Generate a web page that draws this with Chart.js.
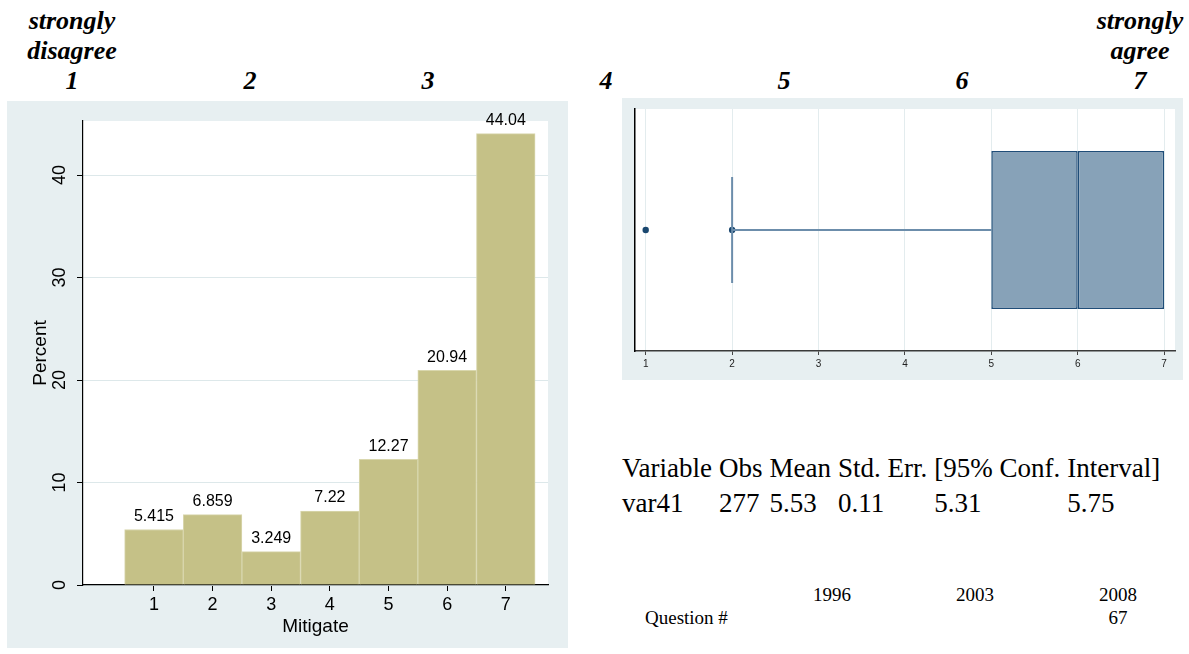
<!DOCTYPE html>
<html lang="en">
<head>
  <meta charset="UTF-8">
  <title>Mitigate</title>
  <script src="https://cdn.jsdelivr.net/npm/chart.js"></script>
  <style>
    body { margin:0; width:1189px; height:654px; background:#fff; position:relative; overflow:hidden;
           font-family:"Liberation Serif", "Times New Roman", serif; color:#000; }
    .scale-lbl { position:absolute; top:6px; transform:translateX(-50%); text-align:center;
                 font-weight:bold; font-style:italic; font-size:26px; line-height:30px; white-space:pre; }
    #histWrap { position:absolute; left:7px; top:101px; }
    #boxWrap { position:absolute; left:622px; top:98px; }
    #stats { position:absolute; left:622px; top:451px; font-size:27px; border-collapse:collapse; }
    #stats td { padding:0 7px 0 0; line-height:35px; white-space:nowrap; }
    .yr { position:absolute; font-size:19px; line-height:20px; transform:translateX(-50%); }
  </style>
</head>
<body>
  <div id="scaleLabels"></div>
  <div id="histWrap"><canvas id="hist" width="561" height="547"></canvas></div>
  <div id="boxWrap"><canvas id="box" width="561" height="282"></canvas></div>
  <table id="stats"><tr id="statHead"></tr><tr id="statBody"></tr></table>
  <div id="years"></div>

  <script>
    // histogram: percent answering each point of the scale
    const categories = [1, 2, 3, 4, 5, 6, 7];
    const percent = [5.415, 6.859, 3.249, 7.22, 12.27, 20.94, 44.04];
    const percentLabels = ['5.415', '6.859', '3.249', '7.22', '12.27', '20.94', '44.04'];
    const percentTicks = [0, 10, 20, 30, 40];

    // box plot summary
    const boxTicks = [1, 2, 3, 4, 5, 6, 7];
    const q1 = 5, median = 6, q3 = 7;
    const lowerAdjacent = 2;
    const outsideValues = [1, 2];

    // scale labels on top
    const scaleNumbers = ['1', '2', '3', '4', '5', '6', '7'];
    const scaleEnds = ['strongly\ndisagree', '', '', '', '', '', 'strongly\nagree'];

    // summary table
    const statHeader = ['Variable', 'Obs', 'Mean', 'Std. Err.', '[95% Conf.', 'Interval]'];
    const statValues = ['var41', '277', '5.53', '0.11', '5.31', '5.75'];
    const years = ['1996', '2003', '2008'];
    const questionNo = ['', '', '67'];

    Chart.defaults.font.family = "'Liberation Sans', Arial, sans-serif";
    Chart.defaults.color = '#000';

    // top labels
    const topBox = document.getElementById('scaleLabels');
    scaleNumbers.forEach((n, i) => {
      const d = document.createElement('div');
      d.className = 'scale-lbl';
      d.style.left = (72 + i * 178) + 'px';
      d.textContent = scaleEnds[i] ? scaleEnds[i] + '\n' + n : '\n\n' + n;
      topBox.appendChild(d);
    });

    // table
    statHeader.forEach(t => { const c = document.createElement('td'); c.textContent = t; document.getElementById('statHead').appendChild(c); });
    statValues.forEach(t => { const c = document.createElement('td'); c.textContent = t; document.getElementById('statBody').appendChild(c); });

    const yBox = document.getElementById('years');
    years.forEach((y, i) => {
      const d = document.createElement('div');
      d.className = 'yr'; d.style.left = (832 + i * 143) + 'px'; d.style.top = '585px';
      d.textContent = y; yBox.appendChild(d);
      if (questionNo[i]) {
        const q = document.createElement('div');
        q.className = 'yr'; q.style.left = (832 + i * 143) + 'px'; q.style.top = '608px';
        q.textContent = questionNo[i]; yBox.appendChild(q);
      }
    });
    const qd = document.createElement('div');
    qd.className = 'yr'; qd.style.left = '645px'; qd.style.top = '608px'; qd.style.transform = 'none';
    qd.textContent = 'Question #'; yBox.appendChild(qd);

    // panel background + white plot region
    const panelBg = {
      id: 'panelBg',
      beforeDraw(chart) {
        const {ctx, chartArea: a} = chart;
        ctx.save();
        ctx.fillStyle = '#e7eff1';
        ctx.fillRect(0, 0, chart.width, chart.height);
        ctx.fillStyle = '#fff';
        ctx.fillRect(a.left, a.top, a.right - a.left, a.bottom - a.top);
        ctx.restore();
      }
    };

    const histText = {
      id: 'histText',
      afterDraw(chart) {
        const ctx = chart.ctx;
        ctx.save();
        ctx.fillStyle = '#000';
        ctx.font = "16px 'Liberation Sans', Arial";
        ctx.textAlign = 'center';
        ctx.textBaseline = 'bottom';
        chart.getDatasetMeta(0).data.forEach((bar, i) => {
          ctx.fillText(percentLabels[i], bar.x, bar.y - 5);
        });
        // rotated y tick labels
        const ys = chart.scales.y;
        ctx.font = "18px 'Liberation Sans', Arial";
        ctx.textBaseline = 'middle';
        ys.ticks.forEach(t => {
          ctx.save();
          ctx.translate(53, ys.getPixelForValue(t.value));
          ctx.rotate(-Math.PI / 2);
          ctx.fillText(String(t.value), 0, 0);
          ctx.restore();
        });
        ctx.restore();
      }
    };

    new Chart(document.getElementById('hist'), {
      type: 'bar',
      data: {
        datasets: [{
          data: categories.map((c, i) => ({x: c, y: percent[i]})),
          backgroundColor: '#c5c187',
          borderColor: '#d9d7ae',
          borderWidth: 1,
          barPercentage: 1,
          categoryPercentage: 1
        }]
      },
      options: {
        responsive: false,
        devicePixelRatio: 1,
        animation: false,
        layout: {padding: {left: 0, top: 20, right: 20, bottom: 0}},
        plugins: {legend: {display: false}, tooltip: {enabled: false}},
        scales: {
          x: {
            type: 'linear', min: -0.21, max: 7.72, offset: false,
            afterBuildTicks: s => { s.ticks = categories.map(v => ({value: v})); },
            afterFit: s => { s.height = 63; },
            grid: {drawOnChartArea: false, offset: false, tickLength: 6, tickColor: '#000'},
            border: {color: '#000', width: 1.2},
            ticks: {font: {size: 18}, color: '#000', padding: 3, maxRotation: 0, autoSkip: false},
            title: {display: true, text: 'Mitigate', font: {size: 19}, color: '#000', padding: {top: 0, bottom: 10}}
          },
          y: {
            type: 'linear', min: 0, max: 45.27,
            afterBuildTicks: s => { s.ticks = percentTicks.map(v => ({value: v})); },
            afterFit: s => { s.width = 76; },
            grid: {color: '#dde8ea', tickLength: 6, tickColor: '#000'},
            border: {color: '#000', width: 1.2},
            ticks: {display: false},
            title: {display: true, text: 'Percent', font: {size: 19}, color: '#000', padding: {top: 22, bottom: 0}}
          }
        }
      },
      plugins: [panelBg, histText]
    });

    // box plot
    const boxRow = 0.5;
    const capHalf = 0.219;
    const boxStyle = {
      type: 'bar', indexAxis: 'y', stack: 'box',
      backgroundColor: '#87a2b8', borderColor: '#1f4d78', borderWidth: 1.5, borderSkipped: false,
      barPercentage: 0.652, categoryPercentage: 1
    };

    new Chart(document.getElementById('box'), {
      type: 'bar',
      data: {
        datasets: [
          Object.assign({data: [{x: [q1, median], y: boxRow}]}, boxStyle),
          Object.assign({data: [{x: [median, q3], y: boxRow}]}, boxStyle),
          {type: 'line', data: [{x: lowerAdjacent, y: boxRow}, {x: q1, y: boxRow}],
           borderColor: '#6c8dab', borderWidth: 2, pointRadius: 0},
          {type: 'line', data: [{x: lowerAdjacent, y: boxRow - capHalf}, {x: lowerAdjacent, y: boxRow + capHalf}],
           borderColor: '#6c8dab', borderWidth: 2, pointRadius: 0},
          {type: 'scatter', data: outsideValues.map(v => ({x: v, y: boxRow})),
           pointRadius: 3.2, backgroundColor: '#1a476f', borderWidth: 0}
        ]
      },
      options: {
        responsive: false,
        devicePixelRatio: 1,
        animation: false,
        layout: {padding: {left: 0, top: 11, right: 8, bottom: 0}},
        plugins: {legend: {display: false}, tooltip: {enabled: false}},
        scales: {
          x: {
            type: 'linear', min: 0.876, max: 7.126, offset: false, stacked: false, beginAtZero: false,
            afterBuildTicks: s => { s.ticks = boxTicks.map(v => ({value: v})); },
            afterFit: s => { s.height = 29; },
            grid: {color: '#e3ecee', offset: false, tickLength: 4, tickColor: '#444'},
            border: {color: '#3a3a3a', width: 1.5},
            ticks: {font: {size: 10}, color: '#222', padding: 3, maxRotation: 0, autoSkip: false}
          },
          y: {
            type: 'linear', min: 0, max: 1, offset: false,
            afterBuildTicks: s => { s.ticks = [{value: 0}, {value: 1}]; },
            afterFit: s => { s.width = 13; },
            grid: {display: false, offset: false},
            border: {color: '#000', width: 1.5},
            ticks: {display: false}
          }
        }
      },
      plugins: [panelBg]
    });
  </script>
</body>
</html>
